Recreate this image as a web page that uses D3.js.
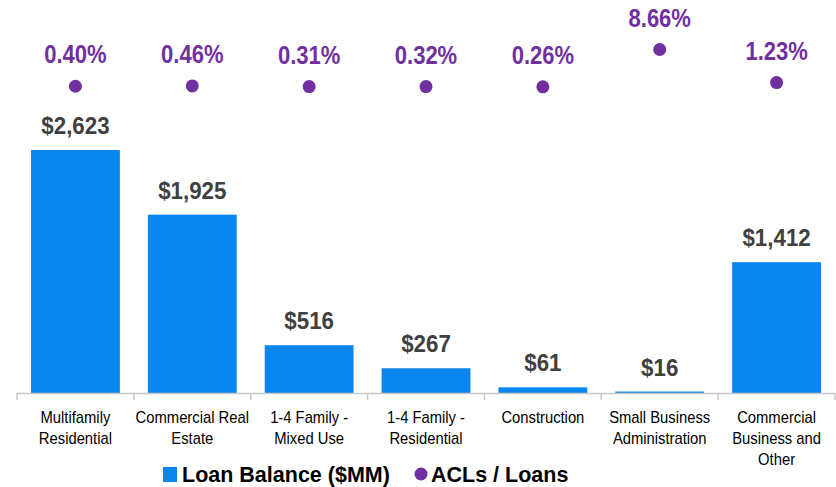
<!DOCTYPE html>
<html>
<head>
<meta charset="utf-8">
<script src="https://cdn.jsdelivr.net/npm/d3@7"></script>
<style>
  body { margin: 0; background: #fff; }
  svg text { font-family: "Liberation Sans Narrow", "Arial Narrow", "Liberation Sans", Arial, sans-serif; }
</style>
</head>
<body>
<div id="chart"></div>
<script>
var categories = [
    ["Multifamily", "Residential"],
    ["Commercial Real", "Estate"],
    ["1-4 Family -", "Mixed Use"],
    ["1-4 Family -", "Residential"],
    ["Construction"],
    ["Small Business", "Administration"],
    ["Commercial", "Business and", "Other"]
];
var loanBalance = [2623, 1925, 516, 267, 61, 16, 1412];
var aclRatio = [0.40, 0.46, 0.31, 0.32, 0.26, 8.66, 1.23];
var legendLabels = ["Loan Balance ($MM)", "ACLs / Loans"];

var width = 836,
    height = 487,
    baseY = 393,
    barColor = "#0A86EF",
    dotColor = "#7030A0";

var svg = d3.select("#chart").append("svg")
    .attr("width", width)
    .attr("height", height);

var x = d3.scaleBand()
    .domain(d3.range(categories.length))
    .range([17, 835])
    .paddingInner(0.24)
    .paddingOuter(0.12);

var y = d3.scaleLinear()
    .domain([0, 2623])
    .range([baseY, 150]);

// secondary axis for the ratio dots
var y2 = d3.scaleLinear()
    .domain([0, 8.66])
    .range([88, 49.5]);

function mid(i) { return x(i) + x.bandwidth() / 2; }

// bars
svg.selectAll("rect.bar")
    .data(loanBalance)
    .enter().append("rect")
    .attr("class", "bar")
    .attr("x", function (d, i) { return x(i); })
    .attr("width", x.bandwidth())
    .attr("y", function (d) { return y(d); })
    .attr("height", function (d) { return baseY - y(d); })
    .attr("fill", barColor);

// axis line + ticks between bands
var half = x.step() * x.paddingInner() / 2;
svg.append("line")
    .attr("x1", 17).attr("x2", 835)
    .attr("y1", baseY + 0.5).attr("y2", baseY + 0.5)
    .attr("stroke", "#c8c8c8")
    .attr("stroke-width", 1.5);
var tickXs = d3.range(categories.length).map(function (i) { return x(i) - half; });
tickXs.push(x(categories.length - 1) + x.bandwidth() + half);
svg.selectAll("line.tick")
    .data(tickXs)
    .enter().append("line")
    .attr("class", "tick")
    .attr("x1", function (d) { return d; })
    .attr("x2", function (d) { return d; })
    .attr("y1", baseY)
    .attr("y2", baseY + 7)
    .attr("stroke", "#c8c8c8")
    .attr("stroke-width", 1.5);

// value labels (squeezed a bit to look like the narrow font)
svg.selectAll("text.val")
    .data(loanBalance)
    .enter().append("text")
    .attr("class", "val")
    .attr("transform", function (d, i) {
        return "translate(" + mid(i) + "," + (y(d) - 16) + ") scale(0.93,1)";
    })
    .attr("text-anchor", "middle")
    .attr("font-size", 24)
    .attr("font-weight", "bold")
    .attr("fill", "#404040")
    .text(function (d) { return "$" + d3.format(",")(d); });

// category labels
var cat = svg.selectAll("text.cat")
    .data(categories)
    .enter().append("text")
    .attr("class", "cat")
    .attr("transform", function (d, i) {
        return "translate(" + mid(i) + ",423) scale(0.87,1)";
    })
    .attr("text-anchor", "middle")
    .attr("font-size", 17)
    .attr("fill", "#000");
cat.selectAll("tspan")
    .data(function (d) { return d; })
    .enter().append("tspan")
    .attr("x", 0)
    .attr("y", function (d, j) { return j * 21; })
    .text(function (d) { return d; });

// ratio dots
svg.selectAll("circle.dot")
    .data(aclRatio)
    .enter().append("circle")
    .attr("class", "dot")
    .attr("cx", function (d, i) { return mid(i); })
    .attr("cy", function (d) { return y2(d); })
    .attr("r", 6.5)
    .attr("fill", dotColor);

svg.selectAll("text.pct")
    .data(aclRatio)
    .enter().append("text")
    .attr("class", "pct")
    .attr("transform", function (d, i) {
        return "translate(" + mid(i) + "," + (y2(d) - 23) + ") scale(0.88,1)";
    })
    .attr("text-anchor", "middle")
    .attr("font-size", 25)
    .attr("font-weight", "bold")
    .attr("fill", dotColor)
    .text(function (d) { return d.toFixed(2) + "%"; });

// legend
var legend = svg.append("g");
legend.append("rect")
    .attr("x", 163).attr("y", 467)
    .attr("width", 14).attr("height", 15)
    .attr("fill", barColor);
legend.append("text")
    .attr("x", 182).attr("y", 482)
    .attr("font-size", 21.5)
    .attr("font-weight", "bold")
    .attr("fill", "#000")
    .text(legendLabels[0]);
legend.append("circle")
    .attr("cx", 421).attr("cy", 474)
    .attr("r", 6.5)
    .attr("fill", dotColor);
legend.append("text")
    .attr("x", 431).attr("y", 482)
    .attr("font-size", 21.5)
    .attr("font-weight", "bold")
    .attr("fill", "#000")
    .text(legendLabels[1]);
</script>
</body>
</html>
